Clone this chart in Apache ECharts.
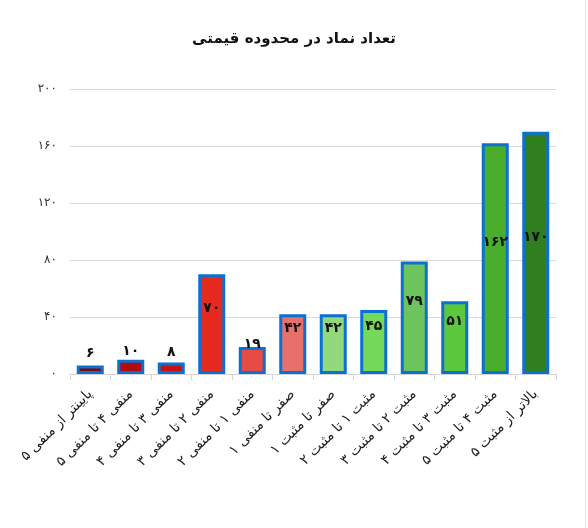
<!DOCTYPE html>
<html>
<head>
<meta charset="utf-8">
<script src="https://cdn.jsdelivr.net/npm/echarts@6/dist/echarts.min.js"></script>
<style>html,body{margin:0;padding:0;background:#fff}#c{width:588px;height:528px}</style>
</head>
<body>
<div id="c"></div>
<script>
const titleText = 'تعداد نماد در محدوده قیمتی';
const categories = [
  'پایینتر از منفی ۵',
  'منفی ۴ تا منفی ۵',
  'منفی ۳ تا منفی ۴',
  'منفی ۲ تا منفی ۳',
  'منفی ۱ تا منفی ۲',
  'صفر تا منفی ۱',
  'صفر تا مثبت ۱',
  'مثبت ۱ تا مثبت ۲',
  'مثبت ۲ تا مثبت ۳',
  'مثبت ۳ تا مثبت ۴',
  'مثبت ۴ تا مثبت ۵',
  'بالاتر از مثبت ۵'
];
const values = [6, 10, 8, 70, 19, 42, 42, 45, 79, 51, 162, 170];
const barColors = ['#7a0c0c', '#b00c0c', '#c81212', '#e62a20', '#e84a44', '#e8706a',
                   '#92d87c', '#74d858', '#6ec45c', '#5cc83e', '#4aae2c', '#2f7f1f'];
const yMin = 0, yMax = 200, yStep = 40;

const fa = s => String(s).replace(/[0-9]/g, d => '۰۱۲۳۴۵۶۷۸۹'[d]);
const FONT = '"DejaVu Sans", "Noto Sans", sans-serif';

const chart = echarts.init(document.getElementById('c'));
chart.setOption({
  animation: false,
  textStyle: { fontFamily: FONT },
  title: {
    text: titleText, left: 'center', top: 27,
    textStyle: { fontFamily: FONT, fontSize: 15, fontWeight: 'bold', color: '#111' }
  },
  grid: { left: 70, right: 32, top: 89, bottom: 154, containLabel: false },
  xAxis: {
    type: 'category', data: categories,
    axisLine: { lineStyle: { color: '#d4d4d4', width: 1 } },
    axisTick: { show: true, alignWithLabel: false, length: 6, lineStyle: { color: '#d4d4d4' } },
    axisLabel: { rotate: 45, interval: 0, fontSize: 14, color: '#222', margin: 18, fontFamily: FONT }
  },
  yAxis: {
    type: 'value', min: yMin, max: yMax, interval: yStep,
    axisLine: { show: false }, axisTick: { show: false },
    axisLabel: { formatter: v => fa(v), fontSize: 12, color: '#333', margin: 13, fontFamily: FONT },
    splitLine: { lineStyle: { color: '#d9d9d9', width: 1 } }
  },
  series: [{
    type: 'bar', barWidth: 27,
    data: values.map((v, i) => ({ value: v, itemStyle: { color: barColors[i] } })),
    itemStyle: { borderColor: '#0b70d2', borderWidth: 3 },
    label: {
      show: true, position: 'inside', offset: [0, -16],
      formatter: p => fa(p.value),
      fontSize: 14, fontWeight: 'bold', color: '#111', fontFamily: FONT
    }
  }],
  graphic: [{
    type: 'line', shape: { x1: 585.5, y1: 0, x2: 585.5, y2: 528 },
    style: { stroke: '#e2e2e2', lineWidth: 1 }
  }]
});
</script>
</body>
</html>
